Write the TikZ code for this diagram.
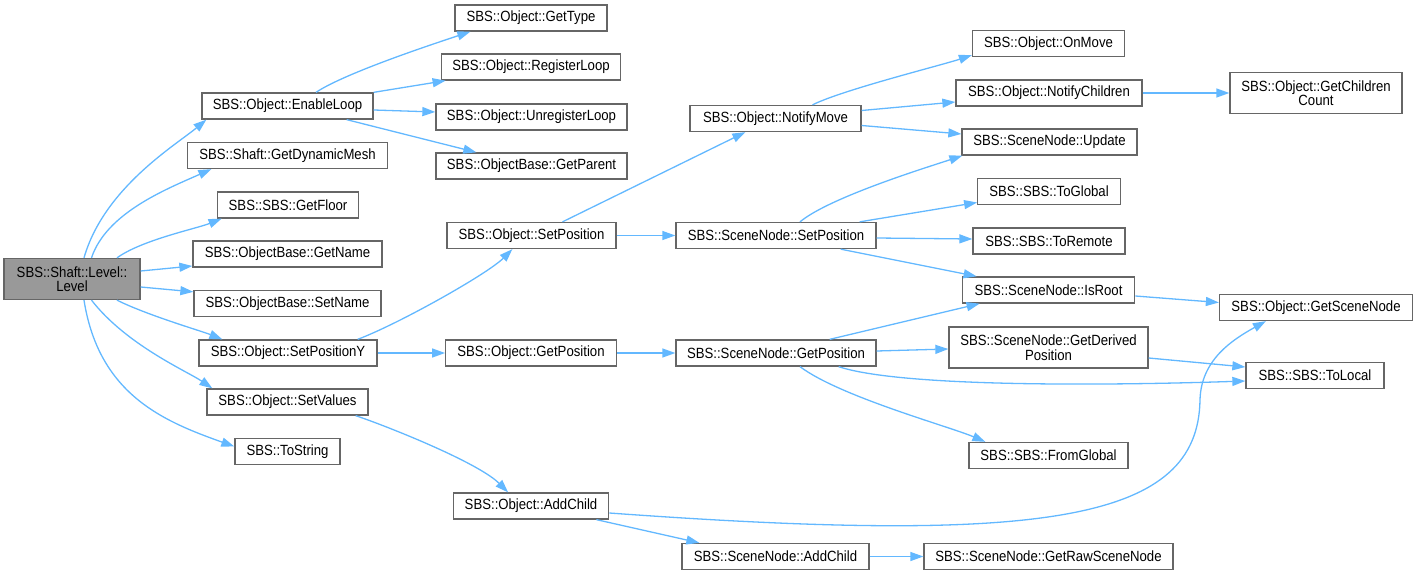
\documentclass[tikz,border=0pt]{standalone}
\usepackage{fontspec}
\setmainfont{Liberation Sans}[FakeStretch=0.89]
\usetikzlibrary{arrows.meta,calc}
\definecolor{edgeblue}{HTML}{63B8FF}
\definecolor{boxborder}{HTML}{666666}
\definecolor{rootfill}{HTML}{999999}
\tikzset{
  fn/.style={draw=boxborder, line width=1.3pt, fill=white, inner xsep=0pt, inner ysep=0pt,
    minimum height=26pt, align=center, font=\fontsize{14.8}{14.5}\selectfont},
  fn2/.style={fn, minimum height=41pt},
  rootfn/.style={fn2, fill=rootfill},
  edge/.style={draw=edgeblue, line width=1.3pt, -{Triangle[length=13pt,width=9pt]}}
}
\begin{document}
\begin{tikzpicture}[x=1pt,y=-1pt]
\useasboundingbox (0,0) rectangle (1417,575);
% column 1
\node[rootfn, minimum width=136] (level) at (72,279) {SBS::Shaft::Level::\\Level};
% column 2
\node[fn, minimum width=171] (enable) at (287.5,106) {SBS::Object::EnableLoop};
\node[fn, minimum width=200] (getdyn) at (287.5,155.5) {SBS::Shaft::GetDynamicMesh};
\node[fn, minimum width=141.5] (getfloor) at (288,205) {SBS::SBS::GetFloor};
\node[fn, minimum width=189] (getname) at (287.5,254) {SBS::ObjectBase::GetName};
\node[fn, minimum width=187] (setname) at (287.5,303.5) {SBS::ObjectBase::SetName};
\node[fn, minimum width=178] (setposy) at (288,353) {SBS::Object::SetPositionY};
\node[fn, minimum width=161] (setvalues) at (287.5,402) {SBS::Object::SetValues};
\node[fn, minimum width=105] (tostring) at (287.5,451.5) {SBS::ToString};
% column 3
\node[fn, minimum width=152] (gettype) at (531,18) {SBS::Object::GetType};
\node[fn, minimum width=179.5] (register) at (531,67) {SBS::Object::RegisterLoop};
\node[fn, minimum width=191] (unregister) at (531.5,117) {SBS::Object::UnregisterLoop};
\node[fn, minimum width=191] (getparent) at (531.5,166) {SBS::ObjectBase::GetParent};
\node[fn, minimum width=169] (osetpos) at (531.5,235.5) {SBS::Object::SetPosition};
\node[fn, minimum width=170.5] (ogetpos) at (531,353) {SBS::Object::GetPosition};
\node[fn, minimum width=155.5] (oaddchild) at (531,506) {SBS::Object::AddChild};
% column 4
\node[fn, minimum width=171] (notifymove) at (775.5,118.5) {SBS::Object::NotifyMove};
\node[fn, minimum width=200] (snsetpos) at (776,235.5) {SBS::SceneNode::SetPosition};
\node[fn, minimum width=200] (sngetpos) at (776,353) {SBS::SceneNode::GetPosition};
\node[fn, minimum width=187] (snaddchild) at (775.5,556.5) {SBS::SceneNode::AddChild};
% column 5
\node[fn, minimum width=152] (onmove) at (1048.5,43.5) {SBS::Object::OnMove};
\node[fn, minimum width=186] (notifychildren) at (1049,93) {SBS::Object::NotifyChildren};
\node[fn, minimum width=175] (update) at (1049.5,142) {SBS::SceneNode::Update};
\node[fn, minimum width=142.5] (toglobal) at (1049,191.5) {SBS::SBS::ToGlobal};
\node[fn, minimum width=152] (toremote) at (1049,241) {SBS::SBS::ToRemote};
\node[fn, minimum width=172.5] (isroot) at (1048.5,290) {SBS::SceneNode::IsRoot};
\node[fn2, minimum width=199] (derived) at (1048.5,347.5) {SBS::SceneNode::GetDerived\\Position};
\node[fn, minimum width=159] (fromglobal) at (1048.5,455.5) {SBS::SBS::FromGlobal};
\node[fn, minimum width=249] (getraw) at (1048.5,556.5) {SBS::SceneNode::GetRawSceneNode};
% column 6
\node[fn2, minimum width=172] (childcount) at (1316,93) {SBS::Object::GetChildren\\Count};
\node[fn, minimum width=193] (getscenenode) at (1316,307.5) {SBS::Object::GetSceneNode};
\node[fn, minimum width=138] (tolocal) at (1315,375.5) {SBS::SBS::ToLocal};

% edges from Level
\draw[edge] ($(level.north)+(12,0)$) .. controls +(20,-70) and +(-30,25) .. ($(enable.south west)+(5,0)$);
\draw[edge] ($(level.north)+(19.5,0)$) .. controls +(15,-45) and +(-45,20) .. ($(getdyn.south west)+(24.5,0)$);
\draw[edge] ($(level.north)+(45,0)$) .. controls +(25,-18) and +(-25,10) .. ($(getfloor.south west)+(5,0)$);
\draw[edge] ($(level.east)+(0,-8)$) -- ($(getname.west)+(0,12)$);
\draw[edge] ($(level.east)+(0,8)$) -- ($(setname.north west)+(0,2)$);
\draw[edge] ($(level.south)+(45,0)$) .. controls +(30,15) and +(-20,-8) .. ($(setposy.north west)+(24,0)$);
\draw[edge] ($(level.south)+(19.5,0)$) .. controls +(35,45) and +(-25,-17) .. ($(setvalues.north west)+(6,0)$);
\draw[edge] ($(level.south)+(12,0)$) .. controls +(15,95) and +(-70,-25) .. ($(tostring.west)+(0,-5)$);

% edges from EnableLoop
\draw[edge] ($(enable.north)+(28.5,0)$) .. controls +(30,-20) and +(-30,10) .. ($(gettype.south west)+(16,0)$);
\draw[edge] (enable.north east) -- ($(register.south west)+(5,0)$);
\draw[edge] ($(enable.east)+(0,4)$) -- ($(unregister.west)+(0,-5)$);
\draw[edge] ($(enable.south east)+(-27,0)$) -- ($(getparent.north west)+(41,0)$);

% edges from SetPositionY and SetValues
\draw[edge] ($(setposy.north east)+(-20,0)$) .. controls +(40,-15) and +(-25,25) .. ($(osetpos.south west)+(66,0)$);
\draw[edge] (setposy.east) -- (ogetpos.west);
\draw[edge] ($(setvalues.south east)+(-13,0)$) .. controls +(30,10) and +(-30,-30) .. ($(oaddchild.north west)+(55.5,0)$);

% Object::SetPosition
\draw[edge] ($(osetpos.north)+(31,0)$) -- ($(notifymove.south west)+(56,0)$);
\draw[edge] (osetpos.east) -- (snsetpos.west);

% NotifyMove
\draw[edge] ($(notifymove.north)+(37,0)$) .. controls +(30,-15) and +(-30,10) .. ($(onmove.south west)+(0,-2)$);
\draw[edge] ($(notifymove.east)+(0,-8)$) -- ($(notifychildren.west)+(0,9)$);
\draw[edge] ($(notifymove.east)+(0,7)$) -- ($(update.west)+(0,-8)$);
\draw[edge] (notifychildren.east) -- (childcount.west);

% SceneNode::SetPosition
\draw[edge] ($(snsetpos.north)+(24,0)$) .. controls +(30,-25) and +(-30,10) .. ($(update.south west)+(1,0)$);
\draw[edge] ($(snsetpos.north east)+(-17,0)$) -- ($(toglobal.west)+(0,11)$);
\draw[edge] ($(snsetpos.east)+(0,2.5)$) -- ($(toremote.west)+(0,-2)$);
\draw[edge] ($(snsetpos.south east)+(-36,0)$) -- ($(isroot.north west)+(15,0)$);
\draw[edge] ($(isroot.east)+(0,6)$) -- ($(getscenenode.west)+(0,-5)$);

% Object::GetPosition / SceneNode::GetPosition
\draw[edge] (ogetpos.east) -- (sngetpos.west);
\draw[edge] ($(sngetpos.north east)+(-47,0)$) -- ($(isroot.south west)+(18,0)$);
\draw[edge] ($(sngetpos.east)+(0,-2)$) -- ($(derived.west)+(0,1.5)$);
\draw[edge] ($(sngetpos.south east)+(-38,0)$) .. controls +(60,20) and +(-150,5) .. ($(tolocal.west)+(0,5.5)$);
\draw[edge] ($(derived.east)+(0,10.5)$) -- ($(tolocal.west)+(0,-8.5)$);
\draw[edge] ($(sngetpos.south)+(24,0)$) .. controls +(40,30) and +(-35,-15) .. ($(fromglobal.north west)+(17,0)$);

% AddChild
\draw[edge] ($(oaddchild.south east)+(-13,0)$) -- ($(snaddchild.north west)+(18,0)$);
\draw[edge] ($(oaddchild.east)+(0,7)$) .. controls (1050,545) and (1198,520) .. (1200,400)
  .. controls (1201,360) and (1232,340) .. ($(getscenenode.south west)+(47,0)$);
\draw[edge] (snaddchild.east) -- (getraw.west);
\end{tikzpicture}
\end{document}
